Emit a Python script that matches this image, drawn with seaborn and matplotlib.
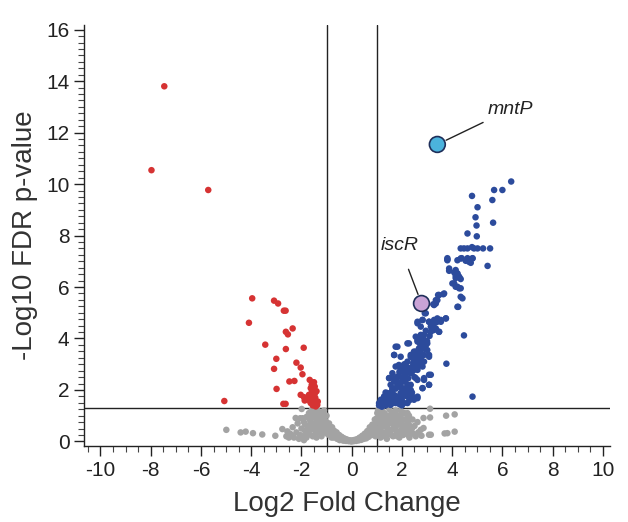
import numpy as np
import pandas as pd
import seaborn as sns
import matplotlib.pyplot as plt
from matplotlib.ticker import MultipleLocator

sns.set_style("ticks")
plt.rcParams['font.family'] = ['Liberation Sans', 'DejaVu Sans']
plt.rcParams['axes.unicode_minus'] = False

# log2 fold change / -log10 FDR
red_x = [-7.46, -7.97, -5.71, -3.96, -4.09, -3.09, -2.93, -2.70, -2.63, -2.62, -2.54, -2.35,
         -3.44, -2.62, -1.91, -3.00, -3.09, -2.20, -2.03, -1.96, -2.48, -2.28, -2.99, -5.07,
         -2.72, -2.63, -1.67, -1.59, -1.63, -1.53, -1.46, -1.70, -2.03, -1.90, -1.87, -1.76,
         -1.57, -1.50, -1.43, -1.37, -1.63, -1.43, -1.47, -1.53,
         -1.45, -1.55, -1.60, -1.35, -1.40, -1.65, -1.50, -1.58]
red_y = [13.80, 10.54, 9.77, 5.56, 4.61, 5.47, 5.36, 5.08, 5.08, 4.26, 4.16, 4.39,
         3.76, 3.59, 3.64, 3.21, 2.82, 3.06, 2.87, 2.61, 2.33, 2.35, 2.04, 1.57,
         1.46, 1.46, 2.39, 2.20, 2.07, 2.03, 1.88, 1.81, 1.81, 1.72, 1.59, 1.64,
         1.66, 1.55, 1.46, 1.42, 1.49, 1.36, 2.13, 1.94,
         1.70, 1.40, 1.75, 1.55, 1.95, 1.55, 2.30, 1.95]

blue_x = [6.35, 5.67, 6.00, 4.79, 5.60, 5.01, 4.93, 5.63, 4.97, 4.61, 4.98,
          4.34, 4.47, 4.61, 4.79, 4.87, 5.01, 5.23, 5.51, 3.81, 4.38, 4.61, 4.81,
          3.81, 4.34, 4.54, 4.81, 4.74, 5.41, 3.88, 4.08, 4.14, 4.21, 4.28, 4.34, 4.14,
          3.81, 4.21, 4.67, 3.88, 4.14, 4.21, 4.28, 4.08, 4.21, 4.34, 4.41, 4.21,
          3.68, 3.44, 3.35, 3.25, 3.41, 2.91,
          2.62, 2.82, 3.08, 3.28, 3.41, 3.55, 3.75, 3.15, 3.28, 3.48, 2.75, 4.47, 3.77, 4.81,
          2.55, 2.75, 2.62, 2.88, 2.95, 3.01, 2.82, 2.22, 1.82, 2.68, 2.48,
          1.69, 1.95, 2.35, 2.55, 3.08, 2.75, 2.48, 2.22, 2.68, 2.55, 3.08, 2.88, 2.82, 3.08,
          2.62, 2.48, 2.35, 2.15,
          1.49, 1.62, 1.75, 1.88, 1.95, 2.08, 2.02, 1.82, 1.69, 1.95, 2.15, 2.22, 2.02, 1.82,
          1.62, 1.42, 1.29, 1.16, 1.22, 1.42, 1.62, 1.82, 2.02, 2.22, 2.42, 2.62, 1.95, 1.75,
          1.55, 1.35, 1.09, 2.08,
          4.01, 4.14, 4.28, 4.34, 4.24, 3.48, 3.65, 3.35, 3.28,
          2.95, 2.82, 2.62, 3.08, 3.21, 3.41, 3.55, 3.75, 3.35, 3.48, 3.15, 2.88,
          2.75, 2.62, 2.82, 2.95, 3.01, 2.75, 2.55, 2.88, 3.08, 2.35, 2.48, 2.68, 2.88, 2.82,
          2.62, 2.42, 2.22, 2.08, 1.75, 1.69, 2.28,
          3.15, 2.88, 3.08, 2.82, 2.62, 2.55, 2.02, 1.88, 2.08, 1.82, 1.62, 1.49, 1.55, 1.35,
          1.22, 1.09, 1.95, 2.22, 2.35, 1.69, 2.02, 2.22, 2.48,
          1.15, 1.25, 1.30, 1.40, 1.45, 1.50, 1.55, 1.60, 1.65, 1.70, 1.75, 1.80, 1.85, 1.90,
          1.95, 2.00, 2.05, 2.10, 2.15, 2.20, 2.25, 2.30, 2.35, 2.40, 2.45, 2.50, 2.55, 2.60,
          2.65, 2.70, 2.72, 2.78, 2.85, 2.90, 2.95, 3.00, 3.10, 3.20, 3.30, 1.35, 1.55, 1.70,
          1.90, 2.10, 2.00, 2.30, 2.40, 1.20, 1.30]
blue_y = [10.10, 9.77, 9.77, 9.54, 9.38, 9.10, 8.71, 8.50, 8.39, 8.08, 7.97,
          7.50, 7.50, 7.50, 7.55, 7.50, 7.50, 7.50, 7.50, 7.12, 7.12, 7.12, 7.12,
          7.07, 7.11, 7.02, 7.11, 6.94, 6.82, 6.63, 6.57, 6.44, 6.50, 6.37, 6.31, 6.35,
          7.04, 7.04, 6.98, 6.72, 6.66, 6.53, 6.40, 6.14, 6.01, 5.95, 5.56, 5.23,
          5.75, 5.69, 5.36, 5.33, 5.49, 4.98,
          4.65, 4.72, 4.65, 4.72, 4.78, 4.65, 4.78, 4.46, 4.33, 4.26, 4.46, 4.12, 3.02, 1.74,
          4.07, 4.14, 3.94, 3.94, 3.75, 3.81, 3.68, 3.81, 3.68, 3.62, 3.49,
          3.36, 3.29, 3.29, 3.36, 3.36, 3.23, 3.17, 3.10, 3.04, 2.91, 2.59, 2.46, 2.07, 2.20,
          2.39, 2.78, 2.65, 2.97,
          2.46, 2.65, 2.91, 2.97, 2.78, 2.65, 2.46, 2.52, 2.33, 2.26, 2.39, 2.20, 2.07, 2.13,
          2.00, 1.88, 1.74, 1.62, 1.49, 1.55, 1.68, 1.74, 1.81, 1.88, 1.74, 1.68, 1.55, 1.49,
          1.42, 1.40, 1.40, 1.49,
          6.14, 6.01, 5.95, 5.62, 5.23, 5.69, 5.72, 5.49, 5.30,
          4.98, 4.72, 4.59, 4.65, 4.52, 4.65, 4.72, 4.78, 4.39, 4.26, 4.26, 4.14,
          4.07, 3.88, 3.88, 3.75, 3.55, 3.62, 3.49, 3.36, 3.29, 3.36, 3.17, 3.23, 3.10, 2.91,
          2.78, 2.91, 2.78, 2.97, 3.68, 3.36, 3.81,
          2.59, 2.39, 2.20, 2.07, 1.74, 2.46, 2.78, 2.52, 2.33, 2.20, 2.07, 2.46, 1.88, 1.68,
          1.55, 1.49, 1.88, 1.74, 2.00, 1.62, 1.55, 1.49, 1.62,
          1.45, 1.60, 1.42, 1.55, 1.75, 1.45, 1.65, 1.90, 1.50, 1.80, 2.05, 1.60, 2.30, 1.45,
          2.10, 1.70, 2.40, 1.95, 2.60, 2.10, 2.45, 2.85, 2.20, 2.70, 3.05, 2.50, 3.30, 2.90,
          3.50, 3.10, 3.80, 3.40, 4.00, 3.60, 4.30, 3.90, 4.10, 4.40, 4.60, 1.90, 2.20, 2.45,
          2.70, 3.00, 1.40, 1.60, 1.90, 1.35, 1.75]

gray_x = [-4.99, -4.42, -4.22, -3.93, -3.56, -3.04, -2.76, -2.56, -2.23, -1.99, -2.60, -2.45,
          -2.30, -2.20, -2.10, -2.05, -2.00, -1.95, -1.90, -1.90, -1.85, -1.80, -1.80, -1.75,
          -1.70, -1.70, -1.65, -1.60, -1.60, -1.55, -1.55, -1.50, -1.50, -1.45, -1.45, -1.40,
          -1.40, -1.35, -1.35, -1.30, -1.30, -1.25, -1.25, -1.20, -1.20, -1.15, -1.10, -1.10,
          -1.05, -1.05, -1.00, -1.00,
          -0.95, -0.90, -0.90, -0.85, -0.80, -0.80, -0.75, -0.70, -0.65, -0.60, -0.55, -0.50,
          -0.45, -0.40, -0.35, -0.30, -0.25, -0.20, -0.15, -0.10, -0.05, 0.00, 0.05, 0.10,
          0.15, 0.20, 0.25, 0.30, 0.35, 0.40, 0.45, 0.50, 0.55, 0.60, 0.65, 0.70, 0.75, 0.80,
          0.85, 0.90, 0.95, 0.95,
          1.00, 1.00, 1.05, 1.05, 1.10, 1.10, 1.15, 1.15, 1.20, 1.20, 1.25, 1.30, 1.30, 1.35,
          1.40, 1.40, 1.45, 1.50, 1.50, 1.55, 1.60, 1.60, 1.65, 1.70, 1.75, 1.75, 1.80, 1.85,
          1.90, 1.90, 1.95, 2.00, 2.00, 2.05, 2.10, 2.15, 2.20, 2.25, 2.30, 2.40, 2.45,
          3.12, 2.19, 2.28, 2.86, 3.12, 3.76, 4.10, 2.86, 2.78, 3.08, 3.15, 3.70, 3.81, 4.10,
          2.28, 2.75, 2.22,
          -1.95, -1.85, -1.75, -1.72, -1.68, -1.62, -1.58, -1.52, -1.48, -1.42, -1.38, -1.33,
          -1.28, -1.22, -1.18, -1.12, -1.08, -1.02, -0.98, -0.93, -0.88, -0.83, -0.78, -0.72,
          -0.68, -0.62, -0.58, -0.52, -0.48, -0.42, -0.38, -0.32, -0.28, -0.22, -0.18, -0.12,
          -0.08, -0.02, 0.02, 0.08, 0.12, 0.18, 0.22, 0.28, 0.32, 0.38, 0.42, 0.48, 0.52, 0.58,
          0.62, 0.68, 0.72, 0.78, 0.82, 0.88, 0.92, 0.98,
          1.02, 1.08, 1.12, 1.18, 1.22, 1.28, 1.32, 1.38, 1.42, 1.48, 1.52, 1.58, 1.62, 1.68,
          1.72, 1.78, 1.82, 1.88, 1.92, 1.98, 2.02, 2.08, 2.12, 2.18, 2.22, 2.28, 2.35, 2.42,
          2.50, 2.55, 2.62, 2.65,
          -2.35, -2.15, -2.05, -2.50, -2.40]
gray_y = [0.45, 0.35, 0.38, 0.32, 0.27, 0.22, 0.48, 0.39, 0.91, 1.26, 0.20, 0.30,
          0.15, 0.35, 0.10, 0.25, 0.50, 0.20, 0.75, 0.05, 0.40, 0.95, 0.15, 0.60,
          1.10, 0.30, 0.80, 0.50, 1.20, 0.20, 0.95, 0.70, 1.28, 0.40, 1.05, 0.85,
          0.15, 1.20, 0.60, 0.35, 0.95, 0.75, 1.10, 0.50, 0.20, 0.90, 0.65, 1.20,
          0.35, 0.80, 1.00, 0.55,
          0.45, 0.70, 0.25, 0.55, 0.35, 0.15, 0.45, 0.30, 0.20, 0.35, 0.15, 0.25,
          0.10, 0.18, 0.08, 0.12, 0.05, 0.08, 0.04, 0.03, 0.02, 0.01, 0.02, 0.03,
          0.05, 0.06, 0.10, 0.08, 0.14, 0.12, 0.20, 0.16, 0.28, 0.22, 0.35, 0.30, 0.45, 0.25,
          0.55, 0.40, 0.70, 0.20,
          0.90, 0.50, 1.20, 0.30, 0.70, 1.05, 0.45, 0.15, 0.90, 1.25, 0.60, 0.35, 1.10, 0.80,
          0.10, 0.55, 1.00, 0.30, 1.25, 0.70, 0.45, 1.10, 0.20, 0.85, 0.55, 1.20, 0.35, 1.00,
          0.65, 0.15, 1.20, 0.45, 0.85, 0.25, 1.10, 0.60, 0.35, 0.80, 0.15, 0.50, 0.30,
          1.27, 1.06, 1.00, 0.91, 0.93, 1.00, 1.05, 0.52, 0.22, 0.26, 0.26, 0.31, 0.32, 0.38,
          0.22, 0.45, 0.78,
          0.90, 0.65, 0.25, 0.95, 0.45, 0.70, 1.00, 0.50, 0.25, 0.65, 1.15, 0.80,
          0.50, 0.95, 0.70, 0.40, 1.00, 0.75, 0.30, 0.55, 0.40, 0.25, 0.55, 0.15,
          0.40, 0.25, 0.10, 0.20, 0.05, 0.12, 0.05, 0.03, 0.08, 0.02, 0.05, 0.01,
          0.04, 0.00, 0.04, 0.01, 0.06, 0.02, 0.08, 0.04, 0.15, 0.06, 0.22, 0.10, 0.30, 0.12,
          0.40, 0.18, 0.55, 0.35, 0.65, 0.25, 0.85, 0.40,
          1.10, 0.85, 0.25, 0.60, 1.05, 0.80, 0.20, 1.00, 0.70, 0.45, 0.90, 0.25, 0.80, 0.55,
          1.00, 0.70, 0.20, 0.85, 0.40, 1.05, 0.65, 0.30, 0.85, 0.50, 1.10, 0.65, 0.40, 0.85,
          0.60, 0.20, 0.75, 0.35,
          0.55, 0.70, 0.90, 0.15, 0.25]

genes = ['mntP', 'iscR']
gene_x = [3.41, 2.78]
gene_y = [11.54, 5.36]
gene_colors = ['#4bb3dd', '#c9a3d6']

df = pd.DataFrame({
    'log2fc': gray_x + red_x + blue_x,
    'nlog10': gray_y + red_y + blue_y,
    'group': ['ns'] * len(gray_x) + ['down'] * len(red_x) + ['up'] * len(blue_x),
})
palette = {'ns': '#a3a3a3', 'down': '#d63333', 'up': '#2c4b9c'}

fig, ax = plt.subplots(figsize=(6.28, 5.22), dpi=100)
fig.subplots_adjust(left=0.134, right=0.972, bottom=0.146, top=0.953)

sns.scatterplot(data=df, x='log2fc', y='nlog10', hue='group', palette=palette,
                s=22, linewidth=0, legend=False, ax=ax, zorder=3)

# cut-off lines
ax.axhline(1.3, color='#222222', lw=1, zorder=2)
ax.axvline(-1, color='#222222', lw=1, zorder=2)
ax.axvline(1, color='#222222', lw=1, zorder=2)

gdf = pd.DataFrame({'x': gene_x, 'y': gene_y, 'gene': genes})
sns.scatterplot(data=gdf, x='x', y='y', hue='gene', palette=dict(zip(genes, gene_colors)),
                s=130, edgecolor='#1f2f5a', linewidth=1.2, legend=False, ax=ax, zorder=4)

ax.annotate('mntP', xy=(gene_x[0], gene_y[0]), xytext=(5.4, 12.9), fontsize=14, style='italic',
            color='#222222', va='center', ha='left',
            arrowprops=dict(arrowstyle='-', color='#222222', lw=1, shrinkA=2, shrinkB=7))
ax.annotate('iscR', xy=(gene_x[1], gene_y[1]), xytext=(1.15, 7.6), fontsize=14, style='italic',
            color='#222222', va='center', ha='left',
            arrowprops=dict(arrowstyle='-', color='#222222', lw=1, shrinkA=9, shrinkB=7))

ax.set_xlim(-10.65, 10.3)
ax.set_ylim(-0.17, 16.2)
ax.xaxis.set_major_locator(MultipleLocator(2))
ax.xaxis.set_minor_locator(MultipleLocator(0.5))
ax.yaxis.set_major_locator(MultipleLocator(2))
ax.yaxis.set_minor_locator(MultipleLocator(0.25))
ax.tick_params(which='major', length=7, width=1, labelsize=15, color='#222222', labelcolor='#222222')
ax.tick_params(which='minor', length=4, width=0.8, color='#444444')
ax.tick_params(axis='x', pad=4)

ax.set_xlabel('Log2 Fold Change', fontsize=20, color='#333333', labelpad=8)
ax.set_ylabel('-Log10 FDR p-value', fontsize=20, color='#333333', labelpad=6)
sns.despine(ax=ax)
for sp in ['left', 'bottom']:
    ax.spines[sp].set_linewidth(1)
    ax.spines[sp].set_color('#222222')

fig.savefig('out.png', dpi=100)
